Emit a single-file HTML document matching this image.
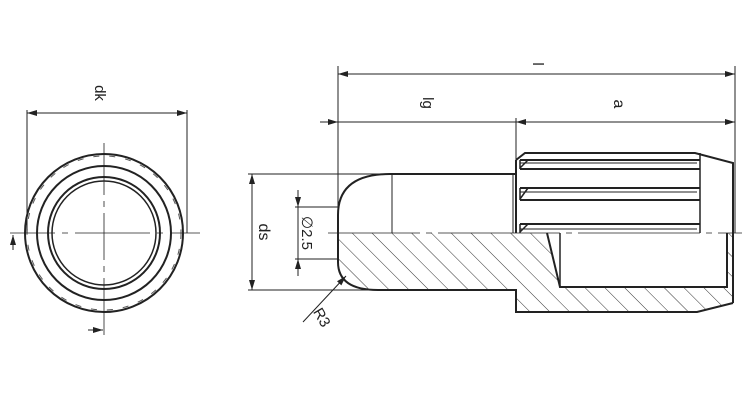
<!DOCTYPE html>
<html><head><style>body{margin:0;background:#fff}svg{display:block}text{font-family:"Liberation Sans",sans-serif;fill:#222}</style></head><body>
<svg width="743" height="414" viewBox="0 0 743 414" xmlns="http://www.w3.org/2000/svg">
<defs>
<marker id="a" viewBox="0 0 10 6" refX="10" refY="3" markerWidth="10" markerHeight="6" orient="auto-start-reverse" markerUnits="userSpaceOnUse"><path d="M0,0L10,3L0,6z" fill="#222"/></marker>
<pattern id="h" width="14" height="14" patternUnits="userSpaceOnUse" patternTransform="rotate(-45)"><line x1="0" y1="0" x2="0" y2="14" stroke="#333" stroke-width="1"/></pattern>
</defs>
<g stroke="#222" fill="none" stroke-width="1">
<!-- left view -->
<circle cx="104" cy="233" r="79" stroke-width="2"/>
<circle cx="104" cy="233" r="77" stroke-width="1" stroke-dasharray="6 10" stroke="#555"/>
<circle cx="104" cy="233" r="67" stroke-width="2"/>
<circle cx="104" cy="233" r="56" stroke-width="2"/>
<circle cx="104" cy="233" r="52" stroke-width="1.5"/>
<path d="M10,233H55M62,233H68M75,233H150M157,233H163M170,233H200" stroke-width="0.8"/>
<path d="M104,143V195M104,201V207M104,213V260M104,266V272M104,278V335" stroke-width="0.8"/>
<line x1="27" y1="110" x2="27" y2="233"/><line x1="187" y1="110" x2="187" y2="233"/>
<line x1="27" y1="113" x2="187" y2="113" marker-start="url(#a)" marker-end="url(#a)"/>
<line x1="13" y1="250" x2="13" y2="235" marker-end="url(#a)"/>
<line x1="88" y1="330" x2="103" y2="330" marker-end="url(#a)"/>
<!-- top dims -->
<line x1="338" y1="66" x2="338" y2="233"/><line x1="735" y1="66" x2="735" y2="233"/><line x1="516" y1="118" x2="516" y2="160"/>
<line x1="338" y1="74" x2="735" y2="74" marker-start="url(#a)" marker-end="url(#a)"/>
<line x1="320" y1="122" x2="338" y2="122" marker-end="url(#a)"/>
<line x1="338" y1="122" x2="516" y2="122"/>
<line x1="516" y1="122" x2="735" y2="122" marker-start="url(#a)" marker-end="url(#a)"/>
<!-- ds -->
<line x1="248" y1="174" x2="390" y2="174"/><line x1="248" y1="290" x2="400" y2="290"/>
<line x1="252" y1="174" x2="252" y2="290" marker-start="url(#a)" marker-end="url(#a)"/>
<line x1="295" y1="207" x2="338" y2="207"/><line x1="295" y1="259" x2="338" y2="259"/>
<line x1="298" y1="190" x2="298" y2="207" marker-end="url(#a)"/>
<line x1="298" y1="207" x2="298" y2="259"/>
<line x1="298" y1="276" x2="298" y2="259" marker-end="url(#a)"/>
<!-- hatched section -->
<path d="M338,233V262Q338,290 378,290H516V312H525H697L733,303V233H547L560,287H727V233Z" fill="url(#h)" stroke="none" fill-rule="evenodd"/>
<path d="M338,233V262Q338,290 378,290H516V312H697L733,303" stroke-width="2"/>
<path d="M547,233L560,287H727V233" stroke-width="2"/>
<path d="M560,233V287" stroke-width="1.5"/>
<!-- upper half -->
<path d="M338,233V215Q338,174 390,174H516" stroke-width="2"/>
<line x1="392" y1="174" x2="392" y2="233"/>
<line x1="513" y1="174" x2="513" y2="233"/>
<path d="M516,160V233" stroke-width="2"/>
<path d="M516,160L525,153H695L733,163V303" stroke-width="2"/>
<path d="M520,160H700M520,169H700M520,188H700M520,200H700M520,224H700" stroke-width="2"/>
<path d="M520,163H697M520,192H697M520,229H697" stroke-width="1"/>
<path d="M520,160V169M528,160L520,168M520,188V200M528,188L520,199M520,224V233M528,224L520,232" stroke-width="1.5"/>
<path d="M700,153V233" stroke-width="1.5"/>
<!-- center line -->
<path d="M328,233H420M426,233H432M438,233H560M566,233H572M578,233H700M706,233H712M718,233H742" stroke-width="0.8"/>
<!-- R3 -->
<line x1="303" y1="322" x2="346" y2="276" marker-end="url(#a)"/>
</g>
<text x="0" y="0" font-size="15" transform="translate(99,93) rotate(90)" text-anchor="middle" dominant-baseline="middle">dk</text>
<text x="0" y="0" font-size="15" transform="translate(537,64) rotate(90)" text-anchor="middle" dominant-baseline="middle">l</text>
<text x="0" y="0" font-size="15" transform="translate(427,103) rotate(90)" text-anchor="middle" dominant-baseline="middle">lg</text>
<text x="0" y="0" font-size="16" transform="translate(618,104) rotate(90)" text-anchor="middle" dominant-baseline="middle">a</text>
<text x="0" y="0" font-size="16" transform="translate(263,232) rotate(90)" text-anchor="middle" dominant-baseline="middle">ds</text>
<text x="0" y="0" font-size="15" transform="translate(306,233) rotate(90)" text-anchor="middle" dominant-baseline="middle">∅2.5</text>
<text x="0" y="0" font-size="15" transform="translate(321,318) rotate(60)" text-anchor="middle" dominant-baseline="middle">R3</text>
</svg>
</body></html>
